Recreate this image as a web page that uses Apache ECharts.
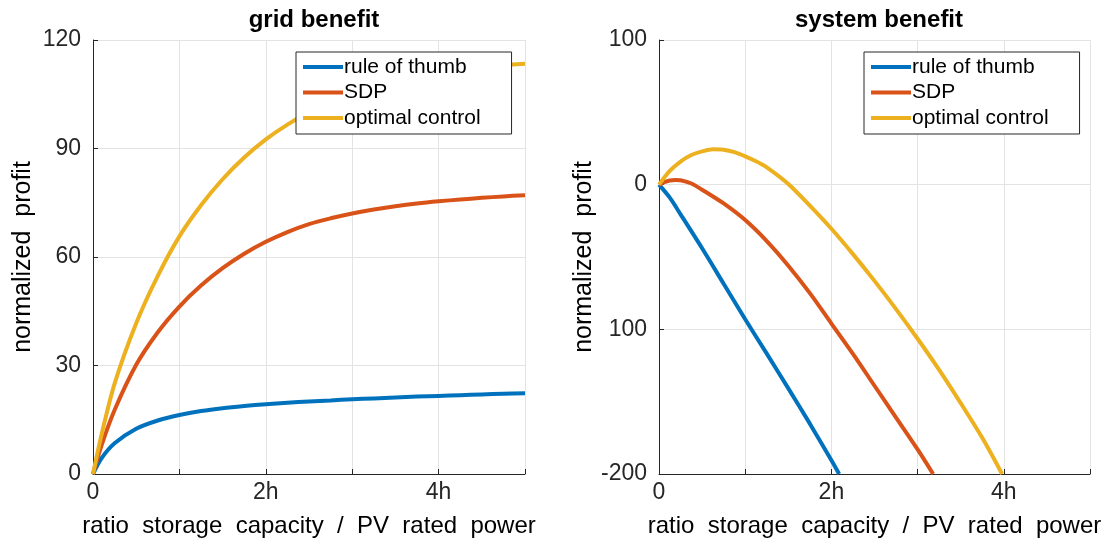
<!DOCTYPE html>
<html>
<head>
<meta charset="utf-8">
<script src="https://cdn.jsdelivr.net/npm/echarts@6/dist/echarts.min.js"></script>
<style>
html,body{margin:0;padding:0;background:#fff;}
#c{width:1110px;height:543px;}
</style>
</head>
<body>
<div id="c"></div>
<script>
// ---- data ----
const seriesNames = ['rule of thumb', 'SDP', 'optimal control'];
const xTickLabels = ['0', '', '2h', '', '4h', ''];
const leftYTicks = {'0':'0','30':'30','60':'60','90':'90','120':'120'};
const rightYTicks = {'-200':'-200','-100':'100','0':'0','100':'100'};

// grid benefit
const gridX = [0, 0.1, 0.25, 0.5, 0.75, 1.0, 1.25, 1.5, 1.75, 2.0, 2.25, 2.5, 2.75, 3.0, 3.25, 3.5, 3.75, 4.0, 4.25, 4.5, 4.75, 5.0];
const gridRule = [0, 4.4, 8.5, 12.5, 14.8, 16.3, 17.4, 18.2, 18.8, 19.3, 19.7, 20.05, 20.35, 20.65, 20.9, 21.15, 21.4, 21.6, 21.8, 22.0, 22.2, 22.35];
const gridSDP = [0, 8, 17.7, 30.2, 39.2, 46.3, 52.1, 56.9, 60.9, 64.2, 66.9, 69.1, 70.7, 72.05, 73.15, 74.05, 74.8, 75.4, 75.9, 76.35, 76.75, 77.1];
const gridOpt = [0, 11, 25, 41.7, 54.8, 65.7, 74.3, 81.5, 87.5, 92.5, 96.6, 100, 102.8, 105.2, 107.2, 108.8, 110.2, 111.3, 112.1, 112.7, 113.1, 113.4];

// system benefit
const sysRuleX = [0, 0.125, 0.25, 0.5, 0.75, 1.0, 1.25, 1.5, 1.75, 2.0, 2.09];
const sysRuleY = [0, -9, -20.5, -44, -68.5, -93, -116.8, -140.8, -165.2, -190.5, -200];
const sysSDPX = [0, 0.0625, 0.125, 0.1875, 0.25, 0.375, 0.5, 0.75, 1.0, 1.25, 1.5, 1.75, 2.0, 2.25, 2.5, 2.75, 3.0, 3.18];
const sysSDPY = [0, 1.8, 2.9, 3.3, 3.0, 0.8, -3.5, -13, -24.5, -39, -56, -75, -96, -117, -139, -161, -183, -200];
const sysOptX = [0, 0.125, 0.25, 0.375, 0.5, 0.625, 0.75, 0.875, 1.0, 1.125, 1.25, 1.5, 1.75, 2.0, 2.25, 2.5, 2.75, 3.0, 3.25, 3.5, 3.75, 3.98];
const sysOptY = [0, 9.5, 16, 20.5, 23, 24.5, 24.2, 22.5, 19.6, 16.2, 12, 0.5, -14.5, -30.5, -48, -66.5, -86, -106.5, -128, -151, -175, -200];

const colors = ['#0072BD', '#D95319', '#EDB120'];
const FONT = 'Liberation Sans, Arial, Helvetica, sans-serif';
const zip = (xs, ys) => xs.map((x, i) => [x, ys[i]]);

function xAxis(gi) {
  return {
    type: 'value', gridIndex: gi, min: 0, max: 5, interval: 1,
    name: 'ratio  storage  capacity  /  PV  rated  power',
    nameLocation: 'middle', nameGap: 40,
    nameTextStyle: {fontFamily: FONT, fontSize: 24, color: '#000'},
    axisLine: {show: true, onZero: false, lineStyle: {color: '#262626', width: 1}},
    axisTick: {show: true, inside: true, length: 5, lineStyle: {color: '#262626'}},
    axisLabel: {fontFamily: FONT, fontSize: 23, color: '#262626', margin: 7,
      formatter: v => xTickLabels[Math.round(v)] || ''},
    splitLine: {show: true, lineStyle: {color: '#e3e3e3', width: 1}}
  };
}
function yAxis(gi, min, max, interval, labels) {
  return {
    type: 'value', gridIndex: gi, min: min, max: max, interval: interval,
    name: 'normalized  profit', nameLocation: 'middle', nameGap: 57,
    nameTextStyle: {fontFamily: FONT, fontSize: 25, color: '#000'},
    axisLine: {show: true, onZero: false, lineStyle: {color: '#262626', width: 1}},
    axisTick: {show: true, inside: true, length: 5, lineStyle: {color: '#262626'}},
    axisLabel: {fontFamily: FONT, fontSize: 23, color: '#262626', margin: 12,
      formatter: v => labels[String(v)] !== undefined ? labels[String(v)] : String(v)},
    splitLine: {show: true, lineStyle: {color: '#e3e3e3', width: 1}}
  };
}
function line(name, data, xi, yi, color) {
  return {
    type: 'line', name: name, data: data, xAxisIndex: xi, yAxisIndex: yi,
    showSymbol: false, symbol: 'none', smooth: 0.3, clip: true,
    lineStyle: {color: color, width: 4}, itemStyle: {color: color}
  };
}
function legend(left) {
  return {
    data: seriesNames, orient: 'vertical', left: left, top: 52,
    icon: 'rect', itemWidth: 40, itemHeight: 4, itemGap: 1.5,
    padding: [3, 31, 4, 7],
    backgroundColor: '#fff', borderColor: '#262626', borderWidth: 1,
    textStyle: {fontFamily: FONT, fontSize: 21, color: '#000', lineHeight: 24, padding: [0,0,0,-4]},
    selectedMode: false
  };
}

const chart = echarts.init(document.getElementById('c'), null, {renderer: 'canvas'});
chart.setOption({
  animation: false,
  backgroundColor: '#fff',
  color: colors,
  title: [
    {text: 'grid benefit', left: 309, top: 3, textAlign: 'center',
     textStyle: {fontFamily: FONT, fontSize: 24, fontWeight: 'bold', color: '#000'}},
    {text: 'system benefit', left: 874, top: 3, textAlign: 'center',
     textStyle: {fontFamily: FONT, fontSize: 24, fontWeight: 'bold', color: '#000'}}
  ],
  legend: [legend(296), legend(864)],
  grid: [
    {left: 93, right: 585, top: 40, bottom: 68, containLabel: false},
    {left: 659, right: 20, top: 40, bottom: 68, containLabel: false}
  ],
  xAxis: [xAxis(0), xAxis(1)],
  yAxis: [yAxis(0, 0, 120, 30, leftYTicks), yAxis(1, -200, 100, 100, rightYTicks)],
  series: [
    line(seriesNames[0], zip(gridX, gridRule), 0, 0, colors[0]),
    line(seriesNames[1], zip(gridX, gridSDP), 0, 0, colors[1]),
    line(seriesNames[2], zip(gridX, gridOpt), 0, 0, colors[2]),
    line(seriesNames[0], zip(sysRuleX, sysRuleY), 1, 1, colors[0]),
    line(seriesNames[1], zip(sysSDPX, sysSDPY), 1, 1, colors[1]),
    line(seriesNames[2], zip(sysOptX, sysOptY), 1, 1, colors[2])
  ]
});
</script>
</body>
</html>
